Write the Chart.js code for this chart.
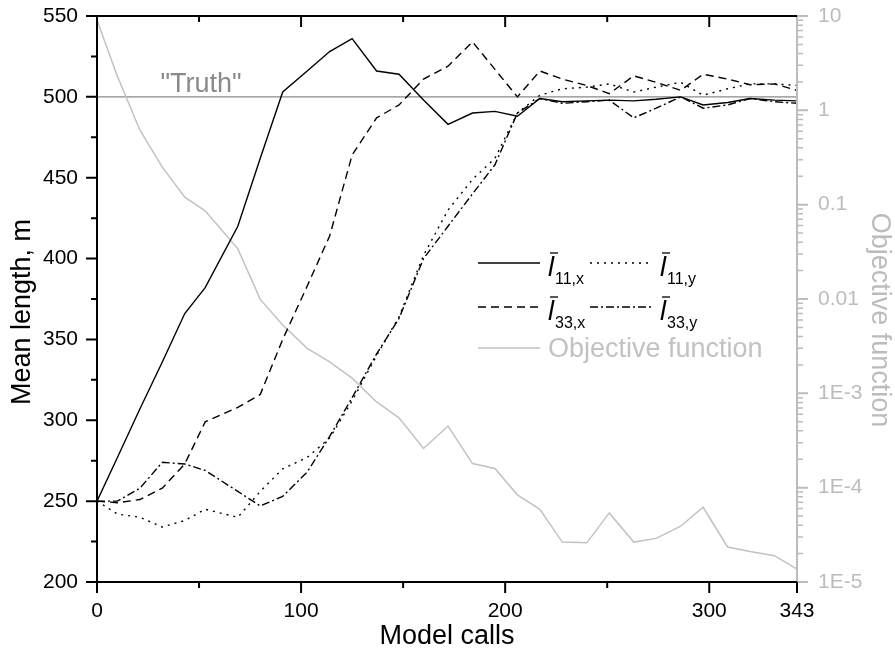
<!DOCTYPE html>
<html>
<head>
<meta charset="utf-8">
<script src="https://cdn.jsdelivr.net/npm/chart.js@4"></script>
<style>
  html, body { margin: 0; padding: 0; background: #fff; }
</style>
</head>
<body>
<canvas id="chart" width="895" height="653"></canvas>
<script>
// model calls at which the optimiser reported
const calls = [0, 10, 21, 32, 43, 53, 69, 80, 91, 103, 114, 125, 137, 148, 160, 172, 184, 195, 206, 217, 228, 240, 251, 263, 274, 286, 297, 309, 320, 332, 343]

// mean lengths, m
const l11x = [250, 277, 307, 336, 366, 382, 420, 462, 503, 516, 528, 536, 516, 514, 498, 483, 490, 491, 488, 499, 497, 497.5, 498, 497.5, 498.5, 500, 495, 496.5, 499, 498, 497.5]
const l11y = [250, 242, 240, 234, 238, 245, 240, 256, 270, 277, 289, 312, 340, 364, 402, 430, 449, 462, 490, 501, 505, 506, 508, 503, 506, 509, 501, 505, 508, 508, 507]
const l33x = [250, 249, 251, 258, 273, 299, 308, 316, 350, 383, 414, 464, 487, 495, 511, 519, 534, 517, 500, 516, 511, 507, 502, 513, 509, 504, 514, 511, 507.5, 508, 504]
const l33y = [250, 250, 258, 274, 273, 269, 256, 247, 253, 268, 290, 314, 341, 363, 400, 420, 440, 458, 490, 499, 496, 497, 498, 487, 493, 500, 493, 495, 499, 497, 496]

// objective function (right, log axis)
const objective = [9, 2.3, 0.62, 0.25, 0.12, 0.086, 0.034, 0.0099, 0.0053, 0.003, 0.00215, 0.00145, 8.1e-4, 5.5e-4, 2.6e-4, 4.5e-4, 1.8e-4, 1.6e-4, 8.4e-5, 5.9e-5, 2.65e-5, 2.6e-5, 5.4e-5, 2.65e-5, 2.9e-5, 3.9e-5, 6.2e-5, 2.35e-5, 2.1e-5, 1.9e-5, 1.37e-5]

const truth = 500
const truthLabel = '"Truth"'
const truthLabelAt = 51

const xTicks = [0, 100, 200, 300, 343]
const yTicks = [200, 250, 300, 350, 400, 450, 500, 550]
const y2Ticks = [1e-5, 1e-4, 1e-3, 0.01, 0.1, 1, 10]
const y2TickLabels = ['1E-5', '1E-4', '1E-3', '0.01', '0.1', '1', '10']

const seriesSubs = ['11,x', '11,y', '33,x', '33,y']
const objectiveName = 'Objective function'
const yTitle = 'Mean length, m'

const FONT = '"Liberation Sans", Arial, Helvetica, sans-serif'
const GRAY = '#c2c2c2'
const AXIS_GRAY = '#bcbcbc'

function pts(vals) {
    return calls.map((c, i) => ({x: c, y: vals[i]}))
}

function seg(ctx, x1, y1, x2, y2) {
    ctx.moveTo(x1, y1)
    ctx.lineTo(x2, y2)
}

// no extra room for the end labels, the plot area is fixed by layout padding
function noPad(s) {
    s.paddingTop = 0
    s.paddingBottom = 0
    s.paddingLeft = 0
    s.paddingRight = 0
}

function rotText(ctx, txt, x, y, rot, color) {
    ctx.save()
    ctx.translate(x, y)
    ctx.rotate(rot)
    ctx.font = '27px ' + FONT
    ctx.fillStyle = color
    ctx.textAlign = 'center'
    ctx.textBaseline = 'middle'
    ctx.fillText(txt, 0, 0)
    ctx.restore()
}

const decorations = {
    id: 'decorations',
    afterDatasetsDraw(chart) {
        const {ctx, chartArea: a, scales} = chart
        const x = scales.x, y = scales.y, y2 = scales.y2
        ctx.save()
        ctx.lineCap = 'butt'

        // "Truth" label
        ctx.font = '27px ' + FONT
        ctx.fillStyle = '#8a8a8a'
        ctx.textAlign = 'center'
        ctx.textBaseline = 'alphabetic'
        ctx.fillText(truthLabel, x.getPixelForValue(truthLabelAt), y.getPixelForValue(truth) - 5)

        // rotated axis titles
        rotText(ctx, yTitle, 23, 312, -Math.PI / 2, '#000')
        rotText(ctx, objectiveName, 879, 320, Math.PI / 2, AXIS_GRAY)

        // right (gray) log axis
        ctx.strokeStyle = AXIS_GRAY
        ctx.lineWidth = 2
        ctx.beginPath()
        seg(ctx, a.right, a.top - 1, a.right, a.bottom + 1)
        y2Ticks.forEach(v => {
            const p = y2.getPixelForValue(v)
            seg(ctx, a.right, p, a.right + 11, p)
        })
        ctx.stroke()
        ctx.lineWidth = 1.5
        ctx.beginPath()
        for (let i = 0; i < y2Ticks.length - 1; i++) {
            for (let k = 2; k <= 9; k++) {
                const p = y2.getPixelForValue(y2Ticks[i] * k)
                seg(ctx, a.right, p, a.right + 6, p)
            }
        }
        ctx.stroke()

        // black frame
        ctx.strokeStyle = '#000'
        ctx.lineWidth = 2
        ctx.beginPath()
        seg(ctx, a.left - 1, a.top, a.right, a.top)
        seg(ctx, a.left, a.top, a.left, a.bottom + 1)
        seg(ctx, a.left - 1, a.bottom, a.right, a.bottom)
        // left ticks
        yTicks.forEach((v, i) => {
            const p = y.getPixelForValue(v)
            seg(ctx, a.left, p, a.left - 11, p)
            if (i < yTicks.length - 1) {
                const m = y.getPixelForValue((v + yTicks[i + 1]) / 2)
                seg(ctx, a.left, m, a.left - 6, m)
            }
        })
        // bottom (outward) and top (inward) ticks
        xTicks.forEach(v => {
            const p = x.getPixelForValue(v)
            seg(ctx, p, a.bottom, p, a.bottom + 11)
            if (v > 0 && v < 343) seg(ctx, p, a.top, p, a.top + 11)
        })
        for (let v = 50; v < 343; v += 100) {
            const p = x.getPixelForValue(v)
            seg(ctx, p, a.bottom, p, a.bottom + 6)
            seg(ctx, p, a.top, p, a.top + 6)
        }
        ctx.stroke()

        // legend
        const ds = chart.data.datasets
        const cols = [478, 590]
        const rows = [263, 307, 348]
        for (let i = 0; i < 4; i++) {
            const cx = cols[i % 2], ry = rows[Math.floor(i / 2)]
            ctx.strokeStyle = ds[i].borderColor
            ctx.lineWidth = ds[i].borderWidth
            ctx.setLineDash(ds[i].borderDash)
            ctx.beginPath()
            seg(ctx, cx, ry, cx + 62, ry)
            ctx.stroke()
            ctx.setLineDash([])
            const tx = cx + 70
            ctx.fillStyle = '#000'
            ctx.textAlign = 'left'
            ctx.font = 'italic 27px ' + FONT
            ctx.fillText('l', tx, ry + 13)
            ctx.lineWidth = 1.3
            ctx.beginPath()
            seg(ctx, tx + 2, ry - 10, tx + 10, ry - 10)
            ctx.stroke()
            ctx.font = '16px ' + FONT
            ctx.fillText(seriesSubs[i], tx + 7, ry + 21)
        }
        const o = ds[4]
        ctx.strokeStyle = o.borderColor
        ctx.lineWidth = o.borderWidth
        ctx.beginPath()
        seg(ctx, cols[0], rows[2], cols[0] + 62, rows[2])
        ctx.stroke()
        ctx.fillStyle = GRAY
        ctx.font = '27px ' + FONT
        ctx.fillText(objectiveName, cols[0] + 70, rows[2] + 9)

        ctx.restore()
    }
}

const tickFont = {family: FONT, size: 21}
const titleFont = {family: FONT, size: 27}

new Chart(document.getElementById('chart'), {
    type: 'line',
    data: {
        datasets: [
            {label: 'l\u030411,x', data: pts(l11x), borderColor: '#000', borderWidth: 1.4, borderDash: [], yAxisID: 'y'},
            {label: 'l\u030411,y', data: pts(l11y), borderColor: '#000', borderWidth: 1.4, borderDash: [2, 5], yAxisID: 'y'},
            {label: 'l\u030433,x', data: pts(l33x), borderColor: '#000', borderWidth: 1.4, borderDash: [8, 5], yAxisID: 'y'},
            {label: 'l\u030433,y', data: pts(l33y), borderColor: '#000', borderWidth: 1.4, borderDash: [8, 3, 2, 3], yAxisID: 'y'},
            {label: objectiveName, data: pts(objective), borderColor: GRAY, borderWidth: 1.5, borderDash: [], yAxisID: 'y2'},
            {label: 'Truth', data: [{x: 0, y: truth}, {x: 343, y: truth}], borderColor: '#8a8a8a', borderWidth: 1.2, yAxisID: 'y'}
        ]
    },
    options: {
        responsive: false,
        devicePixelRatio: 1,
        animation: false,
        layout: {padding: {top: 16, left: 0, right: 0, bottom: 0}},
        elements: {point: {radius: 0}, line: {tension: 0, fill: false}},
        plugins: {legend: {display: false}, tooltip: {enabled: false}},
        scales: {
            x: {
                type: 'linear', position: 'bottom', min: 0, max: 343,
                afterBuildTicks: s => { s.ticks = xTicks.map(v => ({value: v})) },
                afterFit: s => { s.height = 71; noPad(s) },
                grid: {display: false, drawTicks: false},
                border: {display: false},
                ticks: {font: tickFont, color: '#000', padding: 17, autoSkip: false, maxRotation: 0,
                    callback: (v, i) => String(xTicks[i])},
                title: {display: true, text: 'Model calls', font: titleFont, color: '#000', padding: {top: 0, bottom: 0}}
            },
            y: {
                type: 'linear', position: 'left', min: 200, max: 550,
                afterBuildTicks: s => { s.ticks = yTicks.map(v => ({value: v})) },
                afterFit: s => { s.width = 97; noPad(s) },
                grid: {display: false, drawTicks: false},
                border: {display: false},
                ticks: {font: tickFont, color: '#000', padding: 19, callback: (v, i) => String(yTicks[i])}
            },
            y2: {
                type: 'logarithmic', position: 'right', min: 1e-5, max: 10,
                afterBuildTicks: s => { s.ticks = y2Ticks.map(v => ({value: v})) },
                afterFit: s => { s.width = 98; noPad(s) },
                grid: {display: false, drawTicks: false},
                border: {display: false},
                ticks: {font: tickFont, color: AXIS_GRAY, padding: 21, callback: (v, i) => y2TickLabels[i]}
            }
        }
    },
    plugins: [decorations]
})
</script>
</body>
</html>
